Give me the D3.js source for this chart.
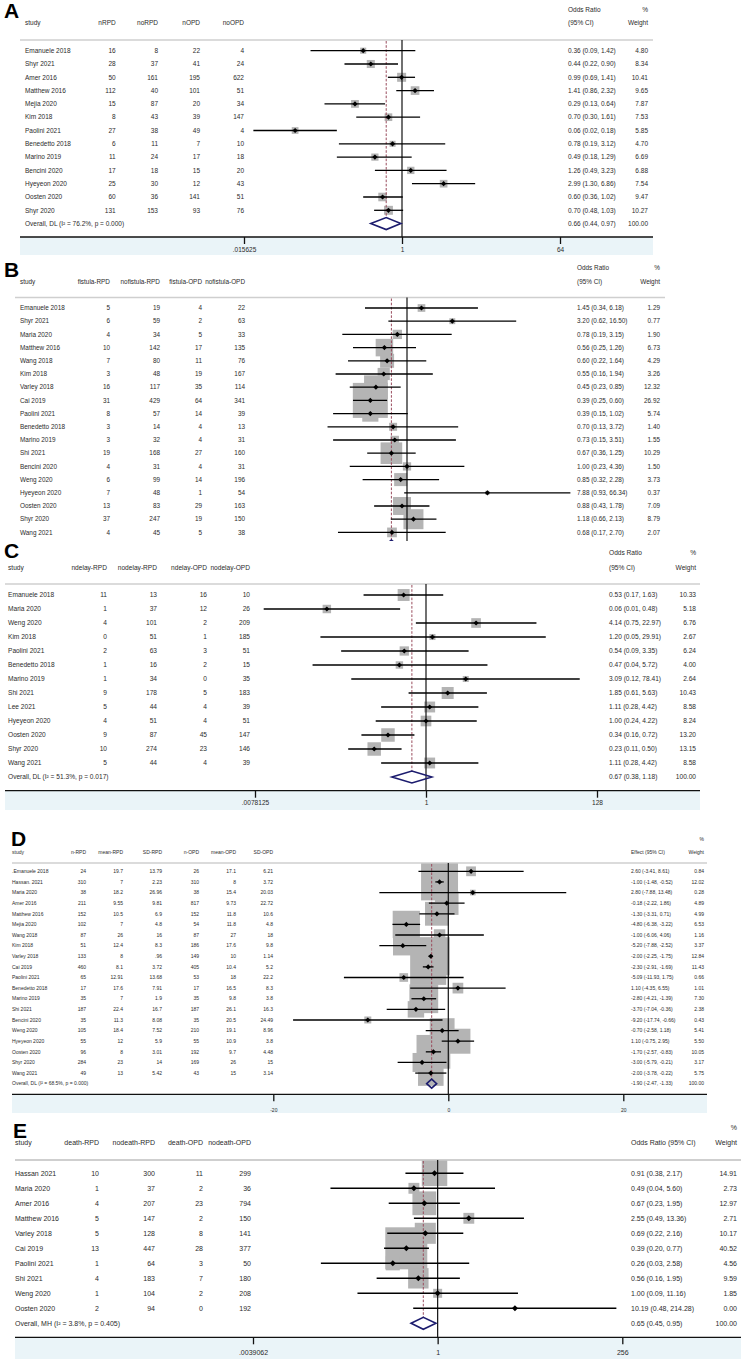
<!DOCTYPE html>
<html>
<head>
<meta charset="utf-8">
<script src="https://cdn.jsdelivr.net/npm/d3@7"></script>
<style>
  body { margin: 0; background: #fff; }
  svg { display: block; font-family: "Liberation Sans", Arial, sans-serif; }
</style>
</head>
<body>
<svg id="chart" width="741" height="1359"></svg>
<script>
// -DATA-
// panel A
const aStudies = ["Emanuele 2018", "Shyr 2021", "Amer 2016", "Matthew 2016", "Mejia 2020", "Kim 2018", "Paolini 2021", "Benedetto 2018", "Marino 2019", "Bencini 2020", "Hyeyeon 2020", "Oosten 2020", "Shyr 2020"];
const aCols = ["nRPD", "noRPD", "nOPD", "noOPD"];
const aCells = [[16, 8, 22, 4], [28, 37, 41, 24], [50, 161, 195, 622], [112, 40, 101, 51], [15, 87, 20, 34], [8, 43, 39, 147], [27, 38, 49, 4], [6, 11, 7, 10], [11, 24, 17, 18], [17, 18, 15, 20], [25, 30, 12, 43], [60, 36, 141, 51], [131, 153, 93, 76]];
const aEst = [0.36, 0.44, 0.99, 1.41, 0.29, 0.70, 0.06, 0.78, 0.49, 1.26, 2.99, 0.60, 0.70];
const aLow = [0.09, 0.22, 0.69, 0.86, 0.13, 0.30, 0.02, 0.19, 0.18, 0.49, 1.30, 0.36, 0.48];
const aHigh = [1.42, 0.90, 1.41, 2.32, 0.64, 1.61, 0.18, 3.12, 1.29, 3.23, 6.86, 1.02, 1.03];
const aWeight = [4.80, 8.34, 10.41, 9.65, 7.87, 7.53, 5.85, 4.70, 6.69, 6.88, 7.54, 9.47, 10.27];
const aOverall = [0.66, 0.44, 0.97];
const aOverallLabel = "Overall, DL (I² = 76.2%, p = 0.000)";
const aTicks = [1 / 64, 1, 64];
const aTickLabels = [".015625", "1", "64"];

// panel B
const bStudies = ["Emanuele 2018", "Shyr 2021", "Maria 2020", "Matthew 2016", "Wang 2018", "Kim 2018", "Varley 2018", "Cai 2019", "Paolini 2021", "Benedetto 2018", "Marino 2019", "Shi 2021", "Bencini 2020", "Weng 2020", "Hyeyeon 2020", "Oosten 2020", "Shyr 2020", "Wang 2021"];
const bCols = ["fistula-RPD", "nofistula-RPD", "fistula-OPD", "nofistula-OPD"];
const bCells = [[5, 19, 4, 22], [6, 59, 2, 63], [4, 34, 5, 33], [10, 142, 17, 135], [7, 80, 11, 76], [3, 48, 19, 167], [16, 117, 35, 114], [31, 429, 64, 341], [8, 57, 14, 39], [3, 14, 4, 13], [3, 32, 4, 31], [19, 168, 27, 160], [4, 31, 4, 31], [6, 99, 14, 196], [7, 48, 1, 54], [13, 83, 29, 163], [37, 247, 19, 150], [4, 45, 5, 38]];
const bEst = [1.45, 3.20, 0.78, 0.56, 0.60, 0.55, 0.45, 0.39, 0.39, 0.70, 0.73, 0.67, 1.00, 0.85, 7.88, 0.88, 1.18, 0.68];
const bLow = [0.34, 0.62, 0.19, 0.25, 0.22, 0.16, 0.23, 0.25, 0.15, 0.13, 0.15, 0.36, 0.23, 0.32, 0.93, 0.43, 0.66, 0.17];
const bHigh = [6.18, 16.50, 3.15, 1.26, 1.64, 1.94, 0.85, 0.60, 1.02, 3.72, 3.51, 1.25, 4.36, 2.28, 66.34, 1.78, 2.13, 2.70];
const bWeight = [1.29, 0.77, 1.90, 6.73, 4.29, 3.26, 12.32, 26.92, 5.74, 1.40, 1.55, 10.29, 1.50, 3.73, 0.37, 7.09, 8.79, 2.07];
const bOverall = [0.67, 0.56, 0.80];   // cut off in the picture, only its tip shows

// panel C
const cStudies = ["Emanuele 2018", "Maria 2020", "Weng 2020", "Kim 2018", "Paolini 2021", "Benedetto 2018", "Marino 2019", "Shi 2021", "Lee 2021", "Hyeyeon 2020", "Oosten 2020", "Shyr 2020", "Wang 2021"];
const cCols = ["ndelay-RPD", "nodelay-RPD", "ndelay-OPD", "nodelay-OPD"];
const cCells = [[11, 13, 16, 10], [1, 37, 12, 26], [4, 101, 2, 209], [0, 51, 1, 185], [2, 63, 3, 51], [1, 16, 2, 15], [1, 34, 0, 35], [9, 178, 5, 183], [5, 44, 4, 39], [4, 51, 4, 51], [9, 87, 45, 147], [10, 274, 23, 146], [5, 44, 4, 39]];
const cEst = [0.53, 0.06, 4.14, 1.20, 0.54, 0.47, 3.09, 1.85, 1.11, 1.00, 0.34, 0.23, 1.11];
const cLow = [0.17, 0.01, 0.75, 0.05, 0.09, 0.04, 0.12, 0.61, 0.28, 0.24, 0.16, 0.11, 0.28];
const cHigh = [1.63, 0.48, 22.97, 29.91, 3.35, 5.72, 78.41, 5.63, 4.42, 4.22, 0.72, 0.50, 4.42];
const cWeight = [10.33, 5.18, 6.76, 2.67, 6.24, 4.00, 2.64, 10.43, 8.58, 8.24, 13.20, 13.15, 8.58];
const cOverall = [0.67, 0.38, 1.18];
const cOverallLabel = "Overall, DL (I² = 51.3%, p = 0.017)";
const cTicks = [1 / 128, 1, 128];
const cTickLabels = [".0078125", "1", "128"];

// panel D
const dStudies = [".Emanuele 2018", "Hassan. 2021", "Maria 2020", "Amer 2016", "Matthew 2016", "Mejia 2020", "Wang 2018", "Kim 2018", "Varley 2018", "Cai 2019", "Paolini 2021", "Benedetto 2018", "Marino 2019", "Shi 2021", "Bencini 2020", "Weng 2020", "Hyeyeon 2020", "Oosten 2020", "Shyr 2020", "Wang 2021"];
const dCols = ["n-RPD", "mean-RPD", "SD-RPD", "n-OPD", "mean-OPD", "SD-OPD"];
const dCells = [[24, 19.7, 13.79, 26, 17.1, 6.21], [310, 7, 2.23, 310, 8, 3.72], [38, 18.2, 26.96, 38, 15.4, 20.03], [211, 9.55, 9.81, 817, 9.73, 22.72], [152, 10.5, 6.9, 152, 11.8, 10.6], [102, 7, 4.8, 54, 11.8, 4.8], [87, 26, 16, 87, 27, 18], [51, 12.4, 8.3, 186, 17.6, 9.8], [133, 8, 0.96, 149, 10, 1.14], [460, 8.1, 3.72, 405, 10.4, 5.2], [65, 12.91, 13.68, 53, 18, 22.2], [17, 17.6, 7.91, 17, 16.5, 8.3], [35, 7, 1.9, 35, 9.8, 3.8], [187, 22.4, 16.7, 187, 26.1, 16.3], [35, 11.3, 8.08, 35, 20.5, 24.49], [105, 18.4, 7.52, 210, 19.1, 8.96], [55, 12, 5.9, 55, 10.9, 3.8], [96, 8, 3.01, 192, 9.7, 4.48], [284, 23, 14, 169, 26, 15], [49, 13, 5.42, 43, 15, 3.14]];
const dEst = [2.60, -1.00, 2.80, -0.18, -1.30, -4.80, -1.00, -5.20, -2.00, -2.30, -5.09, 1.10, -2.80, -3.70, -9.20, -0.70, 1.10, -1.70, -3.00, -2.00];
const dLow = [-3.41, -1.48, -7.88, -2.22, -3.31, -6.38, -6.06, -7.88, -2.25, -2.91, -11.93, -4.35, -4.21, -7.04, -17.74, -2.58, -0.75, -2.57, -5.79, -3.78];
const dHigh = [8.61, -0.52, 13.48, 1.86, 0.71, -3.22, 4.06, -2.52, -1.75, -1.69, 1.75, 6.55, -1.39, -0.36, -0.66, 1.18, 2.95, -0.83, -0.21, -0.22];
const dWeight = [0.84, 12.02, 0.28, 4.89, 4.99, 6.53, 1.16, 3.37, 12.84, 11.43, 0.66, 1.01, 7.30, 2.38, 0.43, 5.41, 5.50, 10.05, 3.17, 5.75];
const dOverall = [-1.90, -2.47, -1.33];
const dOverallLabel = "Overall, DL (I² = 68.5%, p = 0.000)";
const dTicks = [-20, 0, 20];
const dTickLabels = ["-20", "0", "20"];

// panel E
const eStudies = ["Hassan 2021", "Maria 2020", "Amer 2016", "Matthew 2016", "Varley 2018", "Cai 2019", "Paolini 2021", "Shi 2021", "Weng 2020", "Oosten 2020"];
const eCols = ["death-RPD", "nodeath-RPD", "death-OPD", "nodeath-OPD"];
const eCells = [[10, 300, 11, 299], [1, 37, 2, 36], [4, 207, 23, 794], [5, 147, 2, 150], [5, 128, 8, 141], [13, 447, 28, 377], [1, 64, 3, 50], [4, 183, 7, 180], [1, 104, 2, 208], [2, 94, 0, 192]];
const eEst = [0.91, 0.49, 0.67, 2.55, 0.69, 0.39, 0.26, 0.56, 1.00, 10.19];
const eLow = [0.38, 0.04, 0.23, 0.49, 0.22, 0.20, 0.03, 0.16, 0.09, 0.48];
const eHigh = [2.17, 5.60, 1.95, 13.36, 2.16, 0.77, 2.58, 1.95, 11.16, 214.28];
const eWeight = [14.91, 2.73, 12.97, 2.71, 10.17, 40.52, 4.56, 9.59, 1.85, 0.00];
const eOverall = [0.65, 0.45, 0.95];
const eOverallLabel = "Overall, MH (I² = 3.8%, p = 0.405)";
const eTicks = [1 / 256, 1, 256];
const eTickLabels = [".0039062", "1", "256"];


// -STYLE-
const textCol = "#2b2b2b";
const boxCol = "#b4b4b4";
const bandCol = "#eaf4f8";
const diamondCol = "#1c1c6e";
const dashCol = "#9a4d5e";

const svg = d3.select("#chart");
const defs = svg.append("defs");

const fmt2 = v => v.toFixed(2);
const cellFmt = v => String(v).replace(/^0\./, ".");

function drawPanel(p) {
    const n = p.studies.length;
    const rowY = i => p.rowY0 + i * p.rowStep;
    const overallY = rowY(n);

    const g = svg.append("g");
    if (p.clipBottom) {
        const id = "clip" + p.letter;
        defs.append("clipPath").attr("id", id)
            .append("rect").attr("x", 0).attr("y", 0).attr("width", 741).attr("height", p.clipBottom);
        g.attr("clip-path", "url(#" + id + ")");
    }

    // scales
    const x = (p.log ? d3.scaleLog().base(2) : d3.scaleLinear())
        .domain(p.domain)
        .range(p.range);
    const side = d3.scaleSqrt()
        .domain([0, d3.max(p.weight)])
        .range([0, p.boxMax]);
    const nullX = x(p.log ? 1 : 0);

    // panel letter
    svg.append("text")
        .attr("x", p.letterX).attr("y", p.letterY)
        .attr("font-size", 21).attr("font-weight", "bold")
        .attr("fill", "#000")
        .text(p.letter);

    // header
    const head = g.append("g").attr("font-size", p.font).attr("fill", textCol);
    head.append("text").attr("x", p.textX).attr("y", p.head2Y).attr("dy", "0.35em").text("study");
    head.selectAll(".colhead")
        .data(p.cols)
        .enter()
        .append("text")
        .attr("class", "colhead")
        .attr("x", (d, i) => p.colRight[i])
        .attr("y", p.head2Y).attr("dy", "0.35em")
        .attr("text-anchor", "end")
        .text(d => d);
    if (p.ciHead[0]) {
        head.append("text").attr("x", p.ciX).attr("y", p.head1Y).attr("dy", "0.35em").text(p.ciHead[0]);
    }
    head.append("text").attr("x", p.ciX).attr("y", p.head2Y).attr("dy", "0.35em").text(p.ciHead[1]);
    head.append("text").attr("x", p.wRight).attr("y", p.head1Y).attr("dy", "0.35em").attr("text-anchor", "end").text("%");
    head.append("text").attr("x", p.wRight).attr("y", p.head2Y).attr("dy", "0.35em").attr("text-anchor", "end").text("Weight");

    // separator under header
    g.append("line")
        .attr("x1", p.x0).attr("x2", p.x1)
        .attr("y1", p.sepY).attr("y2", p.sepY)
        .attr("stroke", "#cfcfcf").attr("stroke-width", p.sepW);

    // band + axis line
    const bottom = p.axisY || p.clipBottom;
    if (p.axisY) {
        g.append("rect")
            .attr("x", p.x0).attr("y", p.axisY)
            .attr("width", p.x1 - p.x0).attr("height", p.bandBottom - p.axisY)
            .attr("fill", bandCol);
    }

    // weight boxes
    const rows = p.studies.map((s, i) => ({
        study: s, cells: p.cells[i], est: p.est[i], lo: p.low[i], hi: p.high[i], w: p.weight[i], y: rowY(i)
    }));

    g.selectAll(".wbox")
        .data(rows.filter(d => d.w > 0))
        .enter()
        .append("rect")
        .attr("class", "wbox")
        .attr("x", d => x(d.est) - side(d.w) / 2)
        .attr("y", d => d.y - side(d.w) / 2)
        .attr("width", d => side(d.w))
        .attr("height", d => side(d.w))
        .attr("fill", boxCol);

    // null line and overall line
    g.append("line")
        .attr("x1", nullX).attr("x2", nullX)
        .attr("y1", p.sepY).attr("y2", bottom)
        .attr("stroke", "#111").attr("stroke-width", 1.2);
    g.append("line")
        .attr("x1", x(p.overall[0])).attr("x2", x(p.overall[0]))
        .attr("y1", p.sepY + 1).attr("y2", overallY - p.diamondH / 2)
        .attr("stroke", dashCol).attr("stroke-width", 1)
        .attr("stroke-dasharray", "2.6,1.6");

    // confidence intervals
    g.selectAll(".ci")
        .data(rows)
        .enter()
        .append("line")
        .attr("class", "ci")
        .attr("x1", d => x(d.lo)).attr("x2", d => x(d.hi))
        .attr("y1", d => d.y).attr("y2", d => d.y)
        .attr("stroke", "#000").attr("stroke-width", p.ciW);

    // point markers
    const r = p.markerR;
    g.selectAll(".pt")
        .data(rows)
        .enter()
        .append("path")
        .attr("class", "pt")
        .attr("d", d => {
            const cx = x(d.est), cy = d.y;
            return `M${cx},${cy - r}L${cx + r},${cy}L${cx},${cy + r}L${cx - r},${cy}Z`;
        })
        .attr("fill", "#000");

    // overall diamond
    const h = p.diamondH / 2;
    g.append("path")
        .attr("d", `M${x(p.overall[1])},${overallY}L${x(p.overall[0])},${overallY - h}L${x(p.overall[2])},${overallY}L${x(p.overall[0])},${overallY + h}Z`)
        .attr("fill", "none")
        .attr("stroke", diamondCol).attr("stroke-width", 1.6);

    // table texts
    const tab = g.append("g").attr("font-size", p.font).attr("fill", textCol);
    const tr = tab.selectAll(".row")
        .data(rows)
        .enter()
        .append("g")
        .attr("class", "row")
        .attr("transform", d => "translate(0," + d.y + ")");
    tr.append("text").attr("x", p.textX).attr("dy", "0.35em").text(d => d.study);
    tr.selectAll(".cell")
        .data(d => d.cells)
        .enter()
        .append("text")
        .attr("class", "cell")
        .attr("x", (d, i) => p.colRight[i])
        .attr("dy", "0.35em")
        .attr("text-anchor", "end")
        .text(d => cellFmt(d));
    tr.append("text").attr("x", p.ciX).attr("dy", "0.35em")
        .text(d => fmt2(d.est) + " (" + fmt2(d.lo) + ", " + fmt2(d.hi) + ")");
    tr.append("text").attr("x", p.wRight).attr("dy", "0.35em").attr("text-anchor", "end")
        .text(d => fmt2(d.w));

    if (p.overallLabel) {
        tab.append("text").attr("x", p.textX).attr("y", overallY).attr("dy", "0.35em").text(p.overallLabel);
        tab.append("text").attr("x", p.ciX).attr("y", overallY).attr("dy", "0.35em")
            .text(fmt2(p.overall[0]) + " (" + fmt2(p.overall[1]) + ", " + fmt2(p.overall[2]) + ")");
        tab.append("text").attr("x", p.wRight).attr("y", overallY).attr("dy", "0.35em").attr("text-anchor", "end")
            .text("100.00");
    }

    // x axis
    if (p.axisY) {
        g.append("line")
            .attr("x1", p.x0).attr("x2", p.x1)
            .attr("y1", p.axisY).attr("y2", p.axisY)
            .attr("stroke", "#111").attr("stroke-width", 1.3);
        const axis = d3.axisBottom(x)
            .tickValues(p.ticks)
            .tickFormat((d, i) => p.tickLabels[i])
            .tickSize(7);
        const ag = g.append("g")
            .attr("transform", "translate(0," + p.axisY + ")")
            .call(axis);
        ag.select(".domain").remove();
        ag.selectAll(".tick line").attr("stroke", "#111").attr("stroke-width", 1.3);
        ag.selectAll(".tick text")
            .attr("y", p.tickDy).attr("dy", "0.35em")
            .attr("font-size", p.font)
            .attr("font-family", "Liberation Sans, Arial, sans-serif")
            .attr("fill", textCol);
    }
}

// -PANELS-
drawPanel({
    letter: "A", letterX: 4, letterY: 17.5,
    studies: aStudies, cols: aCols, cells: aCells, est: aEst, low: aLow, high: aHigh, weight: aWeight,
    overall: aOverall, overallLabel: aOverallLabel, ticks: aTicks, tickLabels: aTickLabels,
    log: true, domain: [1 / 64, 64], range: [244, 560],
    x0: 20, x1: 653, textX: 25, colRight: [115.7, 158, 200, 244], ciX: 568, wRight: 648,
    ciHead: ["Odds Ratio", "(95% CI)"], head1Y: 10, head2Y: 23,
    sepY: 40, sepW: 1.3, rowY0: 50.7, rowStep: 13.3,
    axisY: 237, tickDy: 13, bandBottom: 255,
    boxMax: 9, diamondH: 12, markerR: 2.6, ciW: 1.3, font: 6.5
});

drawPanel({
    letter: "B", letterX: 4, letterY: 277,
    studies: bStudies, cols: bCols, cells: bCells, est: bEst, low: bLow, high: bHigh, weight: bWeight,
    overall: bOverall, overallLabel: null,
    log: true, domain: [1 / 64, 64], range: [245, 569],
    x0: 15, x1: 665, textX: 20, colRight: [110, 160, 202, 245], ciX: 577, wRight: 660,
    ciHead: ["Odds Ratio", "(95% CI)"], head1Y: 268, head2Y: 281.7,
    sepY: 297.5, sepW: 1.3, rowY0: 308, rowStep: 13.2,
    clipBottom: 541,
    boxMax: 35, diamondH: 11, markerR: 2.6, ciW: 1.3, font: 6.4
});

drawPanel({
    letter: "C", letterX: 4, letterY: 557.5,
    studies: cStudies, cols: cCols, cells: cCells, est: cEst, low: cLow, high: cHigh, weight: cWeight,
    overall: cOverall, overallLabel: cOverallLabel, ticks: cTicks, tickLabels: cTickLabels,
    log: true, domain: [1 / 128, 128], range: [255, 597],
    x0: 5, x1: 700, textX: 8, colRight: [107, 157, 207, 250], ciX: 609, wRight: 696,
    ciHead: ["Odds Ratio", "(95% CI)"], head1Y: 553, head2Y: 568,
    sepY: 584, sepW: 1.3, rowY0: 595, rowStep: 14,
    axisY: 790.7, tickDy: 12.5, bandBottom: 810,
    boxMax: 13.5, diamondH: 12, markerR: 2.6, ciW: 1.3, font: 6.6
});

drawPanel({
    letter: "D", letterX: 11, letterY: 846,
    studies: dStudies, cols: dCols, cells: dCells, est: dEst, low: dLow, high: dHigh, weight: dWeight,
    overall: dOverall, overallLabel: dOverallLabel, ticks: dTicks, tickLabels: dTickLabels,
    log: false, domain: [-20, 20], range: [273.3, 623.3],
    x0: 12, x1: 707, textX: 12, colRight: [86, 123, 162, 199, 236, 273], ciX: 631, wRight: 704,
    ciHead: [null, "Effect (95% CI)"], head1Y: 839, head2Y: 852,
    sepY: 863, sepW: 1.3, rowY0: 871.3, rowStep: 10.62,
    axisY: 1094.3, tickDy: 15.5, bandBottom: 1113,
    boxMax: 38.2, diamondH: 9, markerR: 2.6, ciW: 1.3, font: 5
});

drawPanel({
    letter: "E", letterX: 13, letterY: 1138,
    studies: eStudies, cols: eCols, cells: eCells, est: eEst, low: eLow, high: eHigh, weight: eWeight,
    overall: eOverall, overallLabel: eOverallLabel, ticks: eTicks, tickLabels: eTickLabels,
    log: true, domain: [1 / 256, 256], range: [253, 622.3],
    x0: 15, x1: 741, textX: 15, colRight: [99, 155, 203, 251], ciX: 631, wRight: 737,
    ciHead: [null, "Odds Ratio (95% CI)"], head1Y: 1128, head2Y: 1143,
    sepY: 1160, sepW: 2.2, rowY0: 1173.3, rowStep: 15,
    axisY: 1337.3, tickDy: 15.5, bandBottom: 1359,
    boxMax: 42, diamondH: 12, markerR: 3, ciW: 1.5, font: 7
});
</script>
</body>
</html>
